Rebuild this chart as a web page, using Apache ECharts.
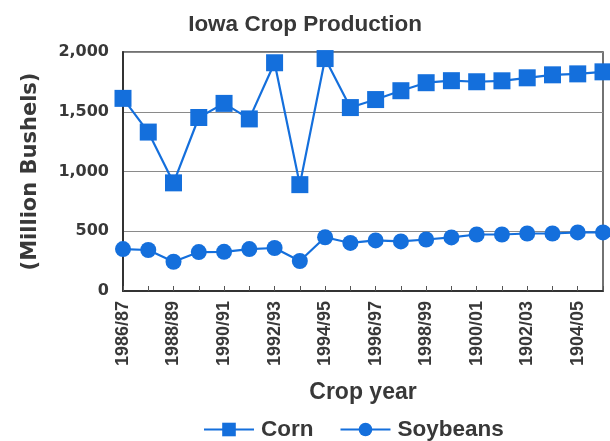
<!DOCTYPE html>
<html>
<head>
<meta charset="utf-8">
<script src="https://cdn.jsdelivr.net/npm/echarts@6/dist/echarts.min.js"></script>
<style>
  html, body { margin: 0; padding: 0; background: #ffffff; }
  #chart { width: 610px; height: 441px; }
</style>
</head>
<body>
<div id="chart"></div>
<script>
// Crop years (labels as printed on the axis)
const years = ['1986/87','1987/88','1988/89','1989/90','1990/91','1991/92','1992/93','1993/94','1994/95','1995/96',
               '1996/97','1997/98','1998/99','1999/00','1900/01','1901/02','1902/03','1903/04','1904/05','1905/06'];
// Production, million bushels
const corn     = [1612, 1330, 905, 1452, 1570, 1440, 1910, 890, 1945, 1535, 1602, 1676, 1743, 1760, 1751, 1759, 1784, 1809, 1817, 1834];
const soybeans = [351, 343, 245, 326, 328, 351, 360, 251, 450, 402, 423, 415, 431, 448, 473, 473, 481, 481, 490, 490];
const yTicks = { min: 0, max: 2000, interval: 500 };

const BLUE = '#146fdc';
const INK = '#383838';
const SANS = '"Liberation Sans", Arial, sans-serif';
const WIDE = '"DejaVu Sans", sans-serif';

const chart = echarts.init(document.getElementById('chart'), null, { renderer: 'canvas' });
chart.setOption({
  animation: false,
  backgroundColor: '#ffffff',
  title: {
    text: 'Iowa Crop Production',
    left: 'center',
    top: 8,
    textStyle: { fontFamily: SANS, fontWeight: 'bold', fontSize: 22.5, color: INK }
  },
  legend: {
    left: 198,
    top: 413,
    itemWidth: 50,
    itemHeight: 17,
    itemGap: 26,
    textStyle: { fontFamily: SANS, fontWeight: 'bold', fontSize: 22.5, color: INK, padding: [0, 0, 0, 2] },
    data: ['Corn', 'Soybeans']
  },
  grid: {
    left: 123, right: 7, top: 52, bottom: 150,
    show: true, borderColor: '#444', borderWidth: 1.5,
    containLabel: false
  },
  xAxis: {
    type: 'category',
    data: years,
    boundaryGap: false,
    name: 'Crop year',
    nameLocation: 'middle',
    nameGap: 90,
    nameTextStyle: { fontFamily: SANS, fontWeight: 'bold', fontSize: 23, color: INK },
    axisLine: { lineStyle: { color: '#333', width: 2 } },
    axisTick: { show: true, inside: true, length: 5, interval: 0, lineStyle: { color: '#555', width: 1 } },
    axisLabel: {
      interval: 1, rotate: 90, margin: 10,
      fontFamily: SANS, fontWeight: 'bold', fontSize: 18, color: INK
    },
    splitLine: { show: false }
  },
  yAxis: {
    type: 'value',
    min: yTicks.min, max: yTicks.max, interval: yTicks.interval,
    name: '(Million Bushels)',
    nameLocation: 'middle',
    nameGap: 82,
    nameRotate: 90,
    nameTextStyle: { fontFamily: WIDE, fontWeight: 'bold', fontSize: 21, color: INK },
    axisLine: { show: true, lineStyle: { color: '#333', width: 2 } },
    axisTick: { show: false },
    axisLabel: {
      margin: 14,
      fontFamily: WIDE, fontWeight: 'bold', fontSize: 16, color: INK,
      formatter: v => v.toLocaleString('en-US')
    },
    splitLine: { show: true, lineStyle: { color: '#8a8a8a', width: 1.2 } }
  },
  series: [
    {
      name: 'Corn',
      type: 'line',
      data: corn,
      symbol: 'rect',
      symbolSize: 17,
      showAllSymbol: true,
      itemStyle: { color: BLUE },
      lineStyle: { color: BLUE, width: 2.2 }
    },
    {
      name: 'Soybeans',
      type: 'line',
      data: soybeans,
      symbol: 'circle',
      symbolSize: 16,
      showAllSymbol: true,
      itemStyle: { color: BLUE },
      lineStyle: { color: BLUE, width: 2.2 }
    }
  ]
});
</script>
</body>
</html>
